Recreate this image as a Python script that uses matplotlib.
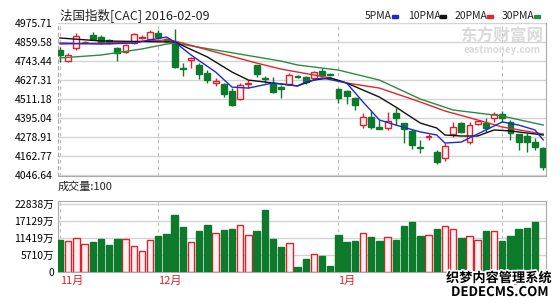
import numpy as np
import matplotlib
matplotlib.use("Agg")
import matplotlib.pyplot as plt
import matplotlib.patheffects as pe

plt.rcParams['font.family'] = ['Noto Sans CJK SC', 'DejaVu Sans']

# daily candles (60 trading days, 2015-11 .. 2016-02-09)
opens = [4810, 4742, 4823, 4858, 4902, 4890, 4870, 4823, 4798, 4853,
         4885, 4878, 4915, 4875, 4860, 4700, 4750, 4720, 4670, 4612,
         4603, 4560, 4511, 4605, 4717, 4640, 4602, 4585, 4603, 4650,
         4645, 4640, 4680, 4662, 4572, 4560, 4518, 4352, 4400, 4340,
         4335, 4425, 4363, 4315, 4220, 4278, 4189, 4149, 4296, 4363,
         4247, 4358, 4363, 4393, 4418, 4372, 4296, 4287, 4250, 4214]
highs = [4830, 4790, 4915, 4868, 4920, 4900, 4878, 4828, 4850, 4915,
         4905, 4933, 4933, 4885, 4940, 4730, 4770, 4730, 4688, 4640,
         4612, 4578, 4606, 4630, 4720, 4652, 4645, 4596, 4670, 4660,
         4650, 4685, 4700, 4670, 4578, 4565, 4525, 4425, 4435, 4380,
         4430, 4455, 4365, 4330, 4260, 4300, 4199, 4242, 4371, 4372,
         4371, 4385, 4397, 4430, 4435, 4383, 4300, 4303, 4273, 4220]
lows = [4740, 4738, 4811, 4852, 4872, 4850, 4850, 4745, 4793, 4848,
        4875, 4872, 4878, 4860, 4700, 4652, 4700, 4633, 4610, 4590,
        4523, 4470, 4505, 4580, 4648, 4610, 4550, 4517, 4597, 4640,
        4605, 4635, 4650, 4650, 4487, 4480, 4445, 4335, 4330, 4328,
        4324, 4352, 4243, 4205, 4181, 4260, 4114, 4132, 4279, 4301,
        4236, 4352, 4311, 4372, 4372, 4261, 4199, 4189, 4199, 4077]
closes = [4780, 4782, 4896, 4862, 4878, 4860, 4855, 4793, 4841, 4908,
          4892, 4920, 4890, 4868, 4707, 4695, 4760, 4664, 4627, 4620,
          4540, 4474, 4597, 4612, 4664, 4635, 4553, 4572, 4658, 4645,
          4615, 4676, 4660, 4655, 4518, 4530, 4475, 4400, 4340, 4330,
          4376, 4395, 4330, 4230, 4212, 4283, 4128, 4226, 4342, 4311,
          4352, 4379, 4332, 4418, 4393, 4302, 4247, 4247, 4220, 4097]

# volume in 万 (last day not shown)
volume = [10635, 10300, 11420, 9400, 10075, 11080, 9180, 11080, 11080, 8840,
          7165, 10635, 11980, 12875, 19255, 15000, 10075, 13880, 15900, 13100,
          14220, 14550, 15670, 12540, 13880, 20935, 11080, 8285, 9740, 1680,
          4370, 6160, 5485, 2130, 12540, 9965, 10300, 13100, 11755, 10300,
          11755, 10635, 15560, 16680, 11980, 12540, 14440, 15560, 14440, 11420,
          11980, 10635, 13880, 13880, 10300, 11980, 14440, 14780, 16680]

# moving averages (day index, value)
ma5_idx = [0, 5, 9, 11, 13, 14, 16, 19, 21, 23, 26, 29, 30, 32, 35, 37, 39, 41,
           44, 46, 47, 49, 50, 52, 54, 56, 58, 59]
ma5_val = [4853, 4847, 4853, 4872, 4890, 4860, 4780, 4676, 4584, 4578, 4609, 4591,
           4615, 4640, 4609, 4493, 4383, 4352, 4310, 4291, 4242, 4248, 4273, 4322,
           4371, 4352, 4322, 4261]
ma10_idx = [0, 5, 13, 14, 18, 21, 23, 26, 29, 31, 33, 35, 39, 41, 44, 46, 47, 49,
            51, 53, 55, 59]
ma10_val = [4884, 4866, 4860, 4860, 4768, 4676, 4627, 4609, 4591, 4627, 4640, 4609,
            4523, 4462, 4364, 4334, 4291, 4285, 4285, 4322, 4316, 4291]
ma20_idx = [0, 6, 13, 14, 19, 24, 27, 29, 33, 35, 39, 44, 47, 51, 54, 59]
ma20_val = [4847, 4853, 4872, 4866, 4798, 4731, 4694, 4676, 4640, 4609, 4578, 4493,
            4438, 4383, 4340, 4297]
ma30_idx = [0, 5, 10, 13, 14, 27, 29, 34, 39, 44, 48, 54, 59]
ma30_val = [4762, 4780, 4817, 4847, 4853, 4743, 4719, 4688, 4627, 4511, 4444, 4407,
            4352]

price_ticks = [4975.71, 4859.58, 4743.44, 4627.31, 4511.18, 4395.04, 4278.91,
               4162.77, 4046.64]
vol_ticks = [0, 5710, 11419, 17129, 22838]
vol_labels = ['0', '5710万', '11419万', '17129万', '22838万']
month_pos = [0, 12, 34, 54]
month_labels = ['11月', '12月', '1月', '2月']

RED = '#d9232d'
GREEN = '#0d7a2b'
PINK = '#fff0f2'
GRID = '#d4d4d4'

fig = plt.figure(figsize=(5.6, 3.05), dpi=100)
ax = fig.add_axes([58/560, 1-176/305, 488/560, 153/305])
axv = fig.add_axes([58/560, 1-272/305, 488/560, 71/305])

o = np.array(opens); h = np.array(highs); l = np.array(lows); c = np.array(closes)
x = np.arange(len(o))
up = c >= o

ax.vlines(x[up], l[up], h[up], color=RED, lw=1, zorder=3)
ax.vlines(x[~up], l[~up], h[~up], color=GREEN, lw=1, zorder=3)
body_h = np.maximum(np.abs(c - o), 2)
body_b = np.minimum(o, c)
ax.bar(x[up], body_h[up], 0.72, bottom=body_b[up], facecolor=PINK,
       edgecolor=RED, lw=1, zorder=4)
ax.bar(x[~up], body_h[~up], 0.72, bottom=body_b[~up], facecolor=GREEN,
       edgecolor=GREEN, lw=1, zorder=4)

ax.plot(ma30_idx, ma30_val, color='#2e8b3e', lw=1, zorder=5)
ax.plot(ma20_idx, ma20_val, color='#e0262e', lw=1, zorder=5)
ax.plot(ma10_idx, ma10_val, color='#111111', lw=1, zorder=5)
ax.plot(ma5_idx, ma5_val, color='#1c2bd0', lw=1, zorder=5)

xlim = (-2/8.19, 486/8.19)
ax.set_xlim(*xlim)
ax.set_ylim(4040.6, 4975.71)
ax.set_yticks(price_ticks)
ax.set_yticklabels(['%.2f' % t for t in price_ticks])
ax.set_xticks([])
ax.grid(axis='y', color=GRID, lw=1)
for m in month_pos:
    ax.axvline(m, color='#bbbbbb', lw=0.8, ls=(0, (3, 3)), zorder=1)
ax.tick_params(axis='y', length=0, labelsize=7.5, pad=4)
ax.spines['top'].set_visible(False)
ax.spines['left'].set_linestyle((0, (3, 3)))
for s in ['left', 'right', 'bottom']:
    ax.spines[s].set_color('#aaaaaa')

# volume
vx = np.arange(len(volume))
vup = up[:len(volume)]
vv = np.array(volume)
axv.bar(vx[vup], vv[vup], 0.78, facecolor=PINK, edgecolor=RED, lw=1, zorder=3)
axv.bar(vx[~vup], vv[~vup], 0.78, facecolor=GREEN, edgecolor=GREEN, lw=1, zorder=3)
axv.set_xlim(*xlim)
axv.set_ylim(0, 23846)
axv.set_yticks(vol_ticks)
axv.set_yticklabels(vol_labels)
axv.grid(axis='y', color=GRID, lw=1)
for m in month_pos:
    axv.axvline(m, color='#bbbbbb', lw=0.8, ls=(0, (3, 3)), zorder=1)
axv.set_xticks(month_pos)
axv.set_xticklabels(month_labels, color=RED, fontsize=8)
for lab in axv.get_xticklabels():
    lab.set_horizontalalignment('left')
axv.tick_params(axis='x', length=0, pad=3)
axv.tick_params(axis='y', length=0, labelsize=7.5, pad=3)
for s in axv.spines.values():
    s.set_color('#aaaaaa')

# titles and legend
fig.text(60/560, 1-16/305, '法国指数[CAC] 2016-02-09', fontsize=9, va='center', color='#222222')
fig.text(58/560, 1-187/305, '成交量:100', fontsize=8, va='center', color='#222222')
legend = [('5PMA', '#1c2bd0', 365), ('10PMA', '#111111', 408),
          ('20PMA', '#e0262e', 455), ('30PMA', '#2e8b3e', 502)]
for name, col, px in legend:
    fig.text(px/560, 1-16/305, name, fontsize=7.5, va='center', color='#222222')
    w = {4: 26, 5: 31}[len(name)]
    fig.patches.append(plt.Rectangle(((px+w+1)/560, 1-17.5/305), 6/560, 2.5/305,
                                     transform=fig.transFigure, color=col))

# watermarks
fig.text(502/560, 1-37/305, '东方财富网', fontsize=12, color='#dadada',
         ha='center', va='center', fontweight='bold')
fig.text(502/560, 1-50/305, 'eastmoney.com', fontsize=7, color='#dadada',
         ha='center', va='center', fontweight='bold')
stroke = [pe.withStroke(linewidth=2.5, foreground='white')]
fig.text(499/560, 1-278/305, '织梦内容管理系统', fontsize=9.5, color='black',
         ha='center', va='center', fontweight='bold', path_effects=stroke, zorder=10)
fig.text(500/560, 1-292/305, 'DEDECMS.COM', fontsize=9.5, color='black',
         ha='center', va='center', fontweight='bold', path_effects=stroke, zorder=10)

fig.savefig('out.png', dpi=100)
